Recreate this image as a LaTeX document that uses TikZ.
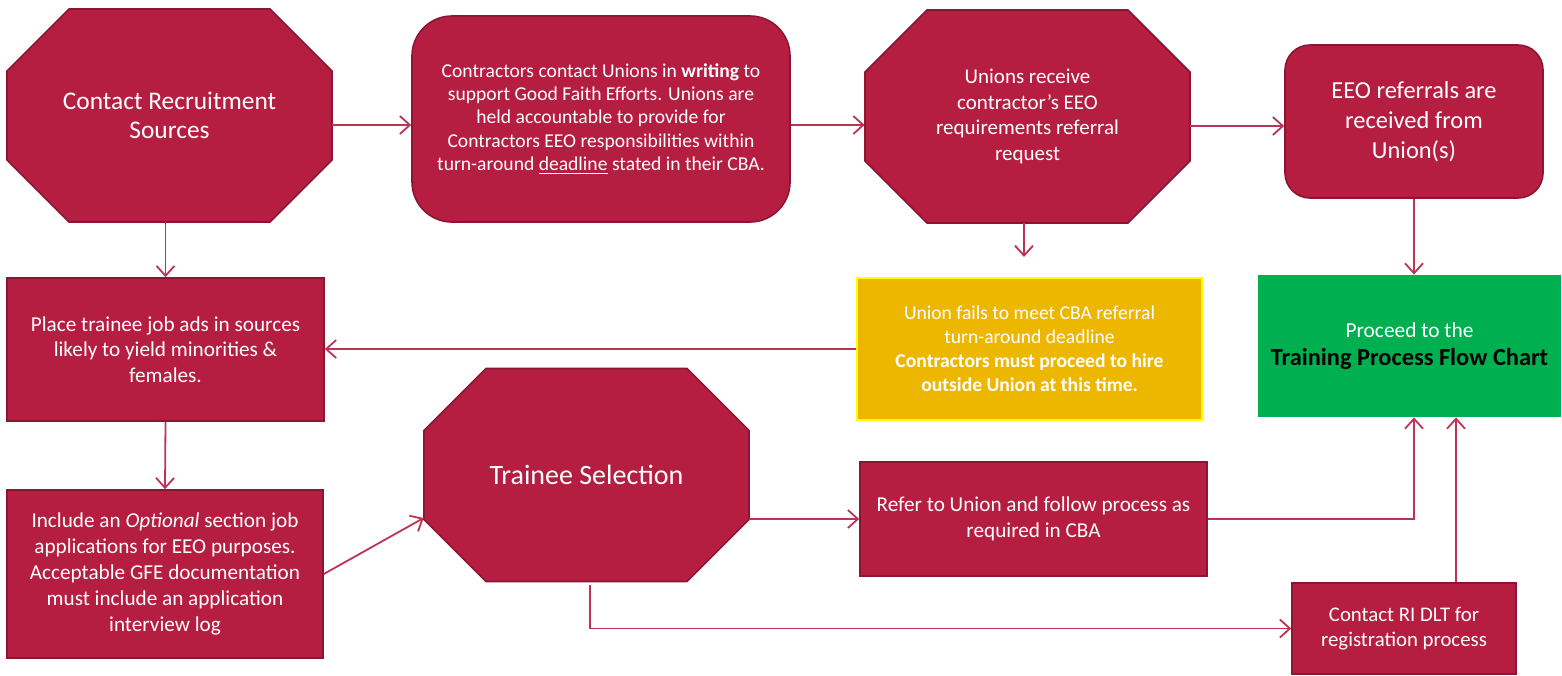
\documentclass[tikz,border=0pt]{standalone}
\usepackage{fontspec}
\setmainfont{Carlito}
\usetikzlibrary{arrows.meta}
\definecolor{maroonfill}{RGB}{181,30,65}
\definecolor{maroonline}{RGB}{140,22,50}
\definecolor{linkcol}{RGB}{190,50,85}
\definecolor{goldfill}{RGB}{237,183,0}
\definecolor{goldline}{RGB}{255,255,0}
\definecolor{greenfill}{RGB}{0,176,80}
% octagon outline round a centre (x,y): 325 x 213, corners cut by 62
\newcommand{\octagon}[2]{%
  \filldraw[draw=maroonline,fill=maroonfill,line width=0.8pt]
    (#1-100.5,#2-106.5) -- (#1+100.5,#2-106.5) -- (#1+162.5,#2-44.5) -- (#1+162.5,#2+44.5)
    -- (#1+100.5,#2+106.5) -- (#1-100.5,#2+106.5) -- (#1-162.5,#2+44.5) -- (#1-162.5,#2-44.5) -- cycle;}
\begin{document}
\begin{tikzpicture}[x=0.5pt,y=-0.5pt,>={Straight Barb[length=5pt,width=9pt]},line join=miter,
  box/.style={draw=maroonline,fill=maroonfill,line width=0.8pt,text=white,align=center,inner sep=0pt},
  octo/.style={text=white,align=center,inner sep=0pt,minimum width=162.5pt,minimum height=106.5pt},
  link/.style={->,draw=linkcol,line width=0.9pt}]
  \useasboundingbox (0,0) rectangle (1562,675);
%%
  % Node: contact
  \octagon{169.5}{115.5}
  \node[octo,font=\fontsize{12.7}{14.5}\selectfont] (contact) at (169.5,115.5)
    {Contact Recruitment\\Sources};
  % Node: writing
  \node[box,rounded corners=20pt,minimum width=189pt,minimum height=103pt,
    font=\fontsize{9.8}{11.6}\selectfont] (writing) at (601,119)
    {Contractors contact Unions in \textbf{writing} to\\support Good Faith Efforts. Unions are\\held accountable to provide for\\Contractors EEO responsibilities within\\turn-around \underline{deadline} stated in their CBA.};
  % Node: unions
  \octagon{1027.5}{116.5}
  \node[octo,font=\fontsize{10.5}{12.75}\selectfont] (unions) at (1027.5,116.5)
    {Unions receive\\contractor’s EEO\\requirements referral\\request};
  % Node: eeo
  \node[box,rounded corners=12.5pt,minimum width=129pt,minimum height=76.5pt,
    font=\fontsize{12.2}{15}\selectfont] (eeo) at (1414,121.5)
    {EEO referrals are\\received from\\Union(s)};
  % Node: training
  \node[fill=greenfill,inner sep=0pt,align=center,minimum width=151.5pt,minimum height=71pt] (training) at (1409.5,346)
    {\fontsize{10.7}{14}\selectfont\color{white}Proceed to the\\[2pt]\fontsize{12.2}{14}\selectfont\bfseries Training Process Flow Chart};
  % Node: fails
  \node[draw=goldline,fill=goldfill,line width=1.2pt,text=white,align=center,inner sep=0pt,
    minimum width=172.5pt,minimum height=71pt,font=\fontsize{9.8}{12}\selectfont] (fails) at (1029.5,349)
    {Union fails to meet CBA referral\\turn-around deadline\\\textbf{Contractors must proceed to hire}\\\textbf{outside Union at this time.}};
  % Node: place
  \node[box,minimum width=158.5pt,minimum height=71.5pt,font=\fontsize{10.6}{12.75}\selectfont] (place) at (165.5,349.5)
    {Place trainee job ads in sources\\likely to yield minorities \&\\females.};
  % Node: optional
  \node[box,minimum width=158pt,minimum height=84pt,font=\fontsize{10.6}{12.9}\selectfont] (optional) at (165,574)
    {Include an \textit{Optional} section job\\applications for EEO purposes.\\Acceptable GFE documentation\\must include an application\\interview log};
  % Node: selection
  \octagon{586.5}{475}
  \node[octo,font=\fontsize{14}{16}\selectfont] (selection) at (586.5,475)
    {Trainee Selection};
  % Node: refer
  \node[box,minimum width=173.5pt,minimum height=57pt,font=\fontsize{10.6}{13}\selectfont] (refer) at (1033.5,519)
    {Refer to Union and follow process as\\required in CBA};
  % Node: dlt
  \node[box,minimum width=112pt,minimum height=45.5pt,font=\fontsize{10.4}{12.5}\selectfont] (dlt) at (1404,628.5)
    {Contact RI DLT for\\registration process};
  \coordinate (failstop) at (1024,257);
%%
  % Edge: contact -> writing
  \draw[link] ([yshift=-4.75pt]contact.east) -- ([yshift=-4.75pt]contact.east -| writing.west);
  % Edge: writing -> unions
  \draw[link] ([yshift=-3pt]writing.east) -- ([yshift=-3pt]writing.east -| unions.west);
  % Edge: unions -> eeo
  \draw[link] ([yshift=-4.75pt]unions.east) -- ([yshift=-4.75pt]unions.east -| eeo.west);
  % Edge: eeo -> training
  \draw[link] (eeo.south) -- (eeo.south |- training.north);
  % Edge: unions -> fails
  \draw[link] (unions.south -| failstop) -- (failstop);
  % Edge: fails -> place
  \draw[link] (fails.west) -- (fails.west -| place.east);
  % Edge: contact -> place
  \draw[link] (place.north |- contact.south) -- (place.north);
  % Edge: place -> optional
  \draw[link] (place.south) -- (optional.north);
  % Edge: optional -> selection
  \draw[link] (optional.east) -- ([yshift=-21.5pt]selection.west);
  % Edge: selection -> refer
  \draw[link] (refer.west -| selection.east) -- (refer.west);
  % Edge: refer -> training
  \draw[link] (refer.east) -| ([xshift=2.25pt]training.south);
  % Edge: selection -> dlt
  \draw[link] ([xshift=1.75pt,yshift=-1.5pt]selection.south) |- (dlt.west);
  % Edge: dlt -> training
  \draw[link] ([xshift=26pt]dlt.north) -- ([xshift=26pt]dlt.north |- training.south);
%
\end{tikzpicture}
\end{document}
